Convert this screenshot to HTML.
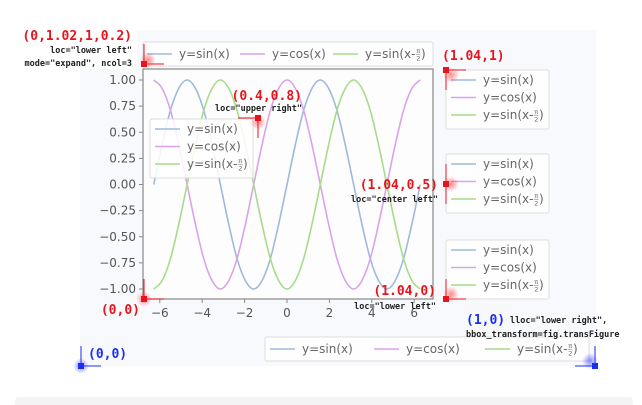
<!DOCTYPE html>
<html><head><meta charset="utf-8"><style>
body{margin:0;background:#fff;width:642px;height:405px;overflow:hidden}
svg{position:absolute;left:0;top:0}
.t{font-family:"DejaVu Sans","Liberation Sans",sans-serif;font-size:12px;fill:#555}
.lg{font-family:"DejaVu Sans","Liberation Sans",sans-serif;font-size:12px;fill:#666}
.fr{font-family:"DejaVu Sans","Liberation Sans",sans-serif;font-size:6.5px;fill:#666}
.rd{font-family:"DejaVu Sans Mono","Liberation Mono",monospace;font-weight:bold;font-size:13px;fill:#e8141c}
.bl{font-family:"DejaVu Sans Mono","Liberation Mono",monospace;font-weight:bold;font-size:13px;fill:#1a2ef0}
.sm{font-family:"DejaVu Sans Mono","Liberation Mono",monospace;font-weight:bold;font-size:8.5px;fill:#222}
</style></head><body>
<svg id="c" width="642" height="405">
<defs>
<radialGradient id="gr"><stop offset="0" stop-color="#f00" stop-opacity=".45"/><stop offset="1" stop-color="#f00" stop-opacity="0"/></radialGradient>
<radialGradient id="gb"><stop offset="0" stop-color="#00f" stop-opacity=".45"/><stop offset="1" stop-color="#00f" stop-opacity="0"/></radialGradient>
</defs>
<rect x="80" y="30" width="516" height="336" fill="#f8f9fd"/>
<rect x="20" y="25" width="117" height="44" fill="#fff"/>
<rect x="15" y="397" width="618" height="10" rx="4" fill="#f4f4f4"/>
<rect x="143" y="69" width="290" height="230" fill="#fdfdfe" stroke="#888" stroke-width="1.2"/>
<g id="ticks"></g>
<g id="series"></g>
<g id="legends"></g>
<g id="annot"></g>
</svg>
<script>
const xValues=[];for(let k=0;k<=32;k++)xValues.push(+(-6.2832+k*0.3927).toFixed(4));
const sinValues=[0,0.38,0.71,0.92,1,0.92,0.71,0.38,0,-0.38,-0.71,-0.92,-1,-0.92,-0.71,-0.38,0,0.38,0.71,0.92,1,0.92,0.71,0.38,0,-0.38,-0.71,-0.92,-1,-0.92,-0.71,-0.38,0];
const cosValues=[1,0.92,0.71,0.38,0,-0.38,-0.71,-0.92,-1,-0.92,-0.71,-0.38,0,0.38,0.71,0.92,1,0.92,0.71,0.38,0,-0.38,-0.71,-0.92,-1,-0.92,-0.71,-0.38,0,0.38,0.71,0.92,1];
const shiftValues=[-1,-0.92,-0.71,-0.38,0,0.38,0.71,0.92,1,0.92,0.71,0.38,0,-0.38,-0.71,-0.92,-1,-0.92,-0.71,-0.38,0,0.38,0.71,0.92,1,0.92,0.71,0.38,0,-0.38,-0.71,-0.92,-1];
const xTicks=[-6,-4,-2,0,2,4,6];
const yTicks=[1,0.75,0.5,0.25,0,-0.25,-0.5,-0.75,-1];
const yTickLabels=["1.00","0.75","0.50","0.25","0.00","\u22120.25","\u22120.50","\u22120.75","\u22121.00"];
const seriesNames=["y=sin(x)","y=cos(x)","y=sin(x-"];
const seriesColors=["#9dbadb","#dba2ea","#a6dc8a"];
const NS="http://www.w3.org/2000/svg";
function sx(v){return 287+v*21.2}
function sy(v){return 184.5-v*104.5}
function mk(t,a,p){const e=document.createElementNS(NS,t);for(const k in a)e.setAttribute(k,a[k]);(p||document.getElementById('c')).appendChild(e);return e}
const tk=document.getElementById('ticks');
xTicks.forEach(v=>{
 const l=mk('line',{x1:sx(v),x2:sx(v),y1:299,y2:303,stroke:'#888'},tk);
 
 
 const t=mk('text',{x:sx(v),y:317,'text-anchor':'middle',class:'t'},tk);t.textContent=v<0?'\u2212'+(-v):''+v;
 
 
});
yTicks.forEach((v,i)=>{
 const l=mk('line',{x1:139,x2:143,y1:sy(v),y2:sy(v),stroke:'#888'},tk);
 
 
 const t=mk('text',{x:136,y:sy(v)+4,'text-anchor':'end',class:'t'},tk);t.textContent=yTickLabels[i];
 
 
});
const sg=document.getElementById('series');
[sinValues,cosValues,shiftValues].forEach((arr,si)=>{
 const pts=arr.map((v,i)=>[sx(xValues[i]),sy(v)]);
 let d='M'+pts[0][0]+','+pts[0][1];
 for(let i=0;i<pts.length-1;i++){const p0=pts[Math.max(0,i-1)],p1=pts[i],p2=pts[i+1],p3=pts[Math.min(pts.length-1,i+2)];
  d+=' C'+(p1[0]+(p2[0]-p0[0])/6)+','+(p1[1]+(p2[1]-p0[1])/6)+' '+(p2[0]-(p3[0]-p1[0])/6)+','+(p2[1]-(p3[1]-p1[1])/6)+' '+p2[0]+','+p2[1];}
 const p=mk('path',{d:d,fill:'none',stroke:seriesColors[si],'stroke-width':1.6},sg);
 
 
});
const lg=document.getElementById('legends');
function label(g,x,y,i){
 const t=mk('text',{x:x,y:y,class:'lg'},g);t.textContent=seriesNames[i];
 if(i==2){const w=t.getComputedTextLength();
  const a=mk('text',{x:x+w+0.8,y:y-5,class:'fr'},g);a.textContent='\u03c0';
  mk('line',{x1:x+w+0.3,x2:x+w+5,y1:y-3.8,y2:y-3.8,stroke:'#666','stroke-width':.5},g);
  const b=mk('text',{x:x+w+0.8,y:y+2.5,class:'fr'},g);b.textContent='2';
  const c=mk('text',{x:x+w+5.5,y:y,class:'lg'},g);c.textContent=')';}
}
function vlegend(x,y,name){
 const g=mk('g',{},lg);
 
 
 mk('rect',{x:x,y:y,width:103,height:59,rx:2,fill:'#fff','fill-opacity':.85,stroke:'#ddd'},g);
 for(let i=0;i<3;i++){const yy=y+10+i*17.5;
  mk('line',{x1:x+5,x2:x+30,y1:yy,y2:yy,stroke:seriesColors[i],'stroke-width':1.6},g);
  label(g,x+37,yy+4,i);}
}
vlegend(150,119,'legend-upper-right-inner');
vlegend(446,70,'legend-right-top');
vlegend(446,154,'legend-right-center');
vlegend(446,240,'legend-right-bottom');
function hlegend(x,y,w,xs,name){
 const g=mk('g',{},lg);
 
 
 mk('rect',{x:x,y:y,width:w,height:24,rx:2,fill:'#fff','fill-opacity':.85,stroke:'#ddd'},g);
 xs.forEach((xx,i)=>{mk('line',{x1:xx,x2:xx+25,y1:y+12,y2:y+12,stroke:seriesColors[i],'stroke-width':1.6},g);label(g,xx+32,y+16,i);});
}
hlegend(143,42,290,[147,240,333],'legend-top-expand');
hlegend(265,337,324,[270,374,485],'legend-figure-lower-right');
const an=document.getElementById('annot');
function txt(x,y,s,c,anchor){const t=mk('text',{x:x,y:y,class:c,'text-anchor':anchor||'start'},an);t.textContent=s;return t}
function marker(x,y,g,col,arr,dx,dy){
 mk('circle',{cx:x+dx,cy:y+dy,r:8,fill:'url(#'+g+')'},an);
 mk('rect',{x:x-3,y:y-3,width:6,height:6,fill:col},an);
 arr.forEach(a=>mk('line',{x1:x,y1:y,x2:x+a[0],y2:y+a[1],stroke:col,'stroke-width':1},an));
}
marker(144,64,'gr','#e8141c',[[20,0],[0,-20]],4,-4);
marker(258,118,'gr','#e8141c',[[-20,0],[0,20]],0,4);
marker(446,70,'gr','#e8141c',[[20,0],[0,20]],5,5);
marker(446,184,'gr','#e8141c',[[0,-20],[0,20]],5,0);
marker(446,299,'gr','#e8141c',[[20,0],[0,-20]],5,-5);
marker(144,299,'gr','#e8141c',[[20,0],[0,-20]],0,0);
marker(81,366,'gb','#1a2ef0',[[20,0],[0,-20]],0,0);
marker(595,366,'gb','#1a2ef0',[[-20,0],[0,-20]],-5,-5);
txt(132,40,'(0,1.02,1,0.2)','rd','end');
txt(132,53,'loc="lower left"','sm','end');
txt(132,66,'mode="expand", ncol=3','sm','end');
txt(302,100,'(0.4,0.8)','rd','end');
txt(302,111,'loc="upper right"','sm','end');
txt(442,60,'(1.04,1)','rd','start');
txt(438,189,'(1.04,0.5)','rd','end');
txt(438,202,'loc="center left"','sm','end');
txt(436,295,'(1.04,0)','rd','end');
txt(436,309,'loc="lower left"','sm','end');
txt(140,314,'(0,0)','rd','end');
txt(88,358,'(0,0)','bl','start');
txt(466,324,'(1,0)','bl','start');
txt(510,323,'lloc="lower right",','sm','start');
txt(466,337,'bbox_transform=fig.transFigure','sm','start');
</script>
</body></html>
